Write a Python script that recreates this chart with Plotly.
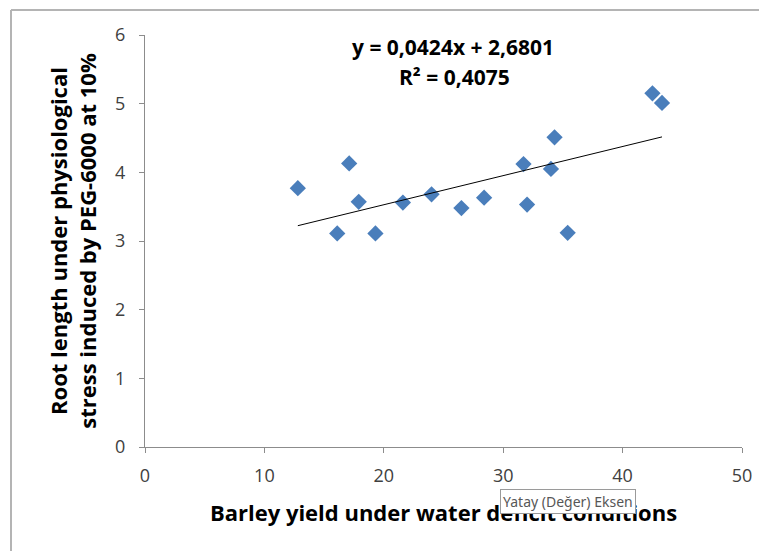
import numpy as np
import plotly.graph_objects as go

# barley yield (x) vs root length under PEG-6000 stress (y)
barley_yield = [12.8, 16.1, 17.1, 17.9, 19.3, 21.6, 24.0, 26.5, 28.4, 31.7, 32.0, 34.0, 34.3, 35.4, 42.5, 43.3]
root_length = [3.77, 3.11, 4.13, 3.57, 3.11, 3.56, 3.68, 3.48, 3.63, 4.12, 3.53, 4.05, 4.51, 3.12, 5.15, 5.01]

# linear trendline as printed on the chart
slope, intercept = 0.0424, 2.6801
equation_text = "y = 0,0424x + 2,6801"
r2_text = "R² = 0,4075"

x_title = "Barley yield under water deficit conditions"
y_title = "Root length under physiological<br>stress induced by PEG-6000 at 10%"

font_family = "'Open Sans', Lato, sans-serif"
tick_color = "#404040"
axis_color = "#8c8c8c"

# page body has an 8px margin, so the figure is drawn 8px smaller and shifted
page_off = 8

fig = go.Figure()
fig.add_scatter(
    x=barley_yield,
    y=root_length,
    mode="markers",
    marker=dict(symbol="diamond", size=12.5, color="#4a7ebb"),
    showlegend=False,
)
trend_x = np.array([min(barley_yield), max(barley_yield)])
fig.add_scatter(
    x=trend_x,
    y=slope * trend_x + intercept,
    mode="lines",
    line=dict(color="black", width=1),
    showlegend=False,
)

fig.update_layout(
    width=767 - page_off,
    height=551 - page_off,
    margin=dict(l=145 - page_off, r=25, t=35 - page_off, b=104),
    paper_bgcolor="white",
    plot_bgcolor="white",
    font=dict(family=font_family, color=tick_color, size=18),
    xaxis=dict(
        range=[0, 50],
        dtick=10,
        showgrid=False,
        zeroline=False,
        showline=True,
        linecolor=axis_color,
        linewidth=1,
        ticks="outside",
        ticklen=5,
        tickcolor=axis_color,
        ticklabelstandoff=7,
        title=dict(
            text=x_title,
            font=dict(family=font_family, size=22, color="black", weight="bold"),
            standoff=20,
        ),
    ),
    yaxis=dict(
        range=[0, 6],
        dtick=1,
        showgrid=False,
        zeroline=False,
        showline=True,
        linecolor=axis_color,
        linewidth=1,
        ticks="outside",
        ticklen=5,
        tickcolor=axis_color,
        ticklabelstandoff=10,
        title=dict(
            text=y_title,
            font=dict(family=font_family, size=22, color="black", weight="bold"),
            standoff=12,
        ),
    ),
)


def px_x(p):
    return (p - 145) / 597


def px_y(p):
    return (447 - p) / 412


# regression equation
eq_font = dict(size=21, color="black", weight="bold")
fig.add_annotation(
    x=px_x(453), y=px_y(47), xref="paper", yref="paper", text=equation_text,
    xanchor="center", yanchor="middle", showarrow=False, font=eq_font,
)
fig.add_annotation(
    x=px_x(454), y=px_y(77), xref="paper", yref="paper", text=r2_text,
    xanchor="center", yanchor="middle", showarrow=False, font=eq_font,
)

# hover tooltip captured in the screenshot
fig.add_annotation(
    x=px_x(500), y=px_y(501), xref="paper", yref="paper",
    xanchor="left", yanchor="middle", text="Yatay (Değer) Eksen", showarrow=False,
    font=dict(size=14, color="#575757", family="'Noto Sans', sans-serif"),
    bgcolor="white", bordercolor="#9a9a9a", borderwidth=1, borderpad=2,
)

# chart-area frame (top and left edges visible)
fig.add_shape(type="line", xref="paper", yref="paper",
              x0=px_x(11), x1=px_x(775), y0=px_y(10), y1=px_y(10),
              line=dict(color="#b4b4b4", width=2))
fig.add_shape(type="line", xref="paper", yref="paper",
              x0=px_x(11), x1=px_x(11), y0=px_y(10), y1=px_y(560),
              line=dict(color="#b4b4b4", width=2))

fig.write_html("out.html")
